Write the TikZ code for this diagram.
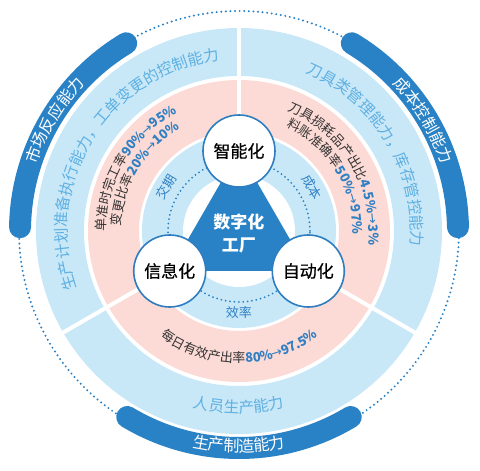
\documentclass[tikz,border=0pt]{standalone}
\usepackage{fontspec}
\setmainfont{Noto Sans CJK SC}
\newfontfamily\dejavu{DejaVu Sans}
\newfontfamily\nodefont{Noto Sans CJK SC}[FakeBold=0.6]
\definecolor{lightring}{HTML}{C8E8F8}
\definecolor{pinkring}{HTML}{FCDAD5}
\definecolor{darkblue}{HTML}{2A82C6}
\definecolor{nodeblue}{HTML}{2E7DC0}
\definecolor{txtlight}{HTML}{5FB0E2}
\definecolor{txtblue}{HTML}{2F80C4}
\definecolor{txtdark}{HTML}{333333}
\tikzset{
  nodecirc/.style={circle, draw=nodeblue, line width=1.6pt, fill=white, minimum size=72pt, inner sep=0pt, font=\nodefont\fontsize{17}{17}\selectfont, text=black},
  innerlab/.style={font=\fontsize{13}{13}\selectfont, text=txtblue, inner sep=0pt},
  darkarc/.style={darkblue, line width=22pt, line cap=round},
  dotline/.style={darkblue, line width=2.2pt, line cap=round, dash pattern=on 0pt off 4.6pt},
  divider/.style={white, line width=4pt},
  archar/.style={anchor=base, inner sep=0pt}
}
% #1 name, #2 baseline radius, #3 centre angle, #4 direction (-1 clockwise, 1 anticlockwise), #5 font, #6 list advance/colour/char
\newcommand\arctxt[6]{%
  \xdef\arctot{0}%
  \foreach \aw/\acol/\ach in {#6}{\pgfmathparse{\arctot+\aw}\xdef\arctot{\pgfmathresult}}%
  \pgfmathsetmacro\arcstart{#3-(#4)*(\arctot/2)/#2*180/pi}%
  \xdef\arccur{0}%
  \foreach \aw/\acol/\ach [count=\ai] in {#6}{%
    \pgfmathsetmacro\arcang{\arcstart+(#4)*(\arccur+\aw/2)/#2*180/pi}%
    \pgfmathsetmacro\arcrot{\arcang+(#4)*90}%
    \node[archar, rotate=\arcrot, text=\acol, font=#5] (#1\ai) at (\arcang:#2) {\ach};%
    \pgfmathparse{\arccur+\aw}\xdef\arccur{\pgfmathresult}%
  }%
}
% same, all characters with one advance and one colour: #5 advance, #6 colour, #7 font, #8 chars
\newcommand\arcuni[8]{%
  \xdef\arctot{0}%
  \foreach \ach in {#8}{\pgfmathparse{\arctot+#5}\xdef\arctot{\pgfmathresult}}%
  \pgfmathsetmacro\arcstart{#3-(#4)*(\arctot/2)/#2*180/pi}%
  \xdef\arccur{0}%
  \foreach \ach [count=\ai] in {#8}{%
    \pgfmathsetmacro\arcang{\arcstart+(#4)*(\arccur+#5/2)/#2*180/pi}%
    \pgfmathsetmacro\arcrot{\arcang+(#4)*90}%
    \node[archar, rotate=\arcrot, text=#6, font=#7] (#1\ai) at (\arcang:#2) {\ach};%
    \pgfmathparse{\arccur+#5}\xdef\arccur{\pgfmathresult}%
  }%
}
\newcommand\smallf{\fontsize{13}{13}\selectfont}
\newcommand\midf{\fontsize{15.5}{15.5}\selectfont}
\newcommand\bigf{\fontsize{16}{16}\selectfont}
\newcommand\bd[1]{{\bfseries #1}}
\newcommand\arr{{\dejavu →}}
\begin{document}
\begin{tikzpicture}[x=1pt,y=1pt]
\useasboundingbox (-239,-240) rectangle (241,231);
% outer dotted circle
\draw[dotline] (0,0) circle[radius=220];
% dark arcs
\draw[darkarc] (121:219) arc[start angle=121, end angle=179, radius=219];
\draw[darkarc] (1:219) arc[start angle=1, end angle=59, radius=219];
\draw[darkarc] (239:217) arc[start angle=239, end angle=301, radius=217];
% rings
\fill[lightring, even odd rule] (0,0) circle[radius=203] circle[radius=155];
\fill[pinkring, even odd rule] (0,0) circle[radius=151] circle[radius=100];
\fill[lightring] (0,0) circle[radius=97];
\fill[white] (0,0) circle[radius=56];
\foreach \a in {90,210,330}
  \draw[divider] (\a:95) -- (\a:206);
% inner dotted circle
\draw[dotline, line width=2pt, dash pattern=on 0pt off 4.4pt] (0,0) circle[radius=71];
% triangle
\coordinate (pz) at (90:80);
\coordinate (px) at (210:80);
\coordinate (pd) at (330:80);
\fill[darkblue] (pz) -- (px) -- (pd) -- cycle;
\node[font=\fontsize{17}{23}\selectfont\bfseries, text=white, align=center] (core) at (0,-2) {数字化\\工厂};
% nodes
\node[nodecirc] (zhi) at (pz) {智能化};
\node[nodecirc] (xin) at (px) {信息化};
\node[nodecirc] (zi) at (pd) {自动化};
% inner labels
\node[innerlab, rotate=59] (jq) at (149:85) {交期};
\node[innerlab, rotate=-60] (cb) at (31:85) {成本};
\node[innerlab] (xl) at (270:82) {效率};
% pink ring texts
\arctxt{pa}{133}{149}{-1}{\smallf}{13/txtdark/单,13/txtdark/准,13/txtdark/时,13/txtdark/完,13/txtdark/工,13/txtdark/率,8/txtblue/\bd{9},8/txtblue/\bd{0},11.5/txtblue/\bd{\%},11/txtblue/\arr,8/txtblue/\bd{9},8/txtblue/\bd{5},11.5/txtblue/\bd{\%}}
\arctxt{pb}{118}{149}{-1}{\smallf}{13/txtdark/变,13/txtdark/更,13/txtdark/比,13/txtdark/率,8/txtblue/\bd{2},8/txtblue/\bd{0},11.5/txtblue/\bd{\%},11/txtblue/\arr,8/txtblue/\bd{1},8/txtblue/\bd{0},11.5/txtblue/\bd{\%}}
\arctxt{pc}{130}{31}{-1}{\smallf}{13/txtdark/刀,13/txtdark/具,13/txtdark/损,13/txtdark/耗,13/txtdark/品,13/txtdark/产,13/txtdark/出,13/txtdark/比,8.5/txtblue/\bd{4},4.5/txtblue/\bd{.},8.5/txtblue/\bd{5},12/txtblue/\bd{\%},11/txtblue/\arr,8.5/txtblue/\bd{3},12/txtblue/\bd{\%}}
\arctxt{pd}{114}{32}{-1}{\smallf}{13/txtdark/料,13/txtdark/账,13/txtdark/准,13/txtdark/确,13/txtdark/率,8.5/txtblue/\bd{5},8.5/txtblue/\bd{0},12/txtblue/\bd{\%},11/txtblue/\arr,8.5/txtblue/\bd{9},8.5/txtblue/\bd{7},12/txtblue/\bd{\%}}
\arctxt{pe}{132}{270}{1}{\smallf}{13/txtdark/每,13/txtdark/日,13/txtdark/有,13/txtdark/效,13/txtdark/产,13/txtdark/出,13/txtdark/率,8/txtblue/\bd{8},8/txtblue/\bd{0},11.5/txtblue/\bd{\%},11/txtblue/\arr,8/txtblue/\bd{9},8/txtblue/\bd{7},4/txtblue/\bd{.},8/txtblue/\bd{5},11.5/txtblue/\bd{\%}}
% outer light ring texts
\arcuni{oa}{172}{148}{-1}{15.5}{txtlight}{\midf}{生,产,计,划,准,备,执,行,能,力,，,工,单,变,更,的,控,制,能,力}
\arcuni{ob}{172}{31}{-1}{15.5}{txtlight}{\midf}{刀,具,类,管,理,能,力,，,库,存,管,控,能,力}
\arcuni{oc}{182}{270}{1}{15.5}{txtlight}{\midf}{人,员,生,产,能,力}
% dark arc texts
\arcuni{da}{213}{149}{-1}{16}{white}{\bigf}{市,场,反,应,能,力}
\arcuni{db}{213}{31}{-1}{16}{white}{\bigf}{成,本,控,制,能,力}
\arcuni{dc}{221}{270}{1}{15.5}{white}{\bigf}{生,产,制,造,能,力}
\end{tikzpicture}
\end{document}
